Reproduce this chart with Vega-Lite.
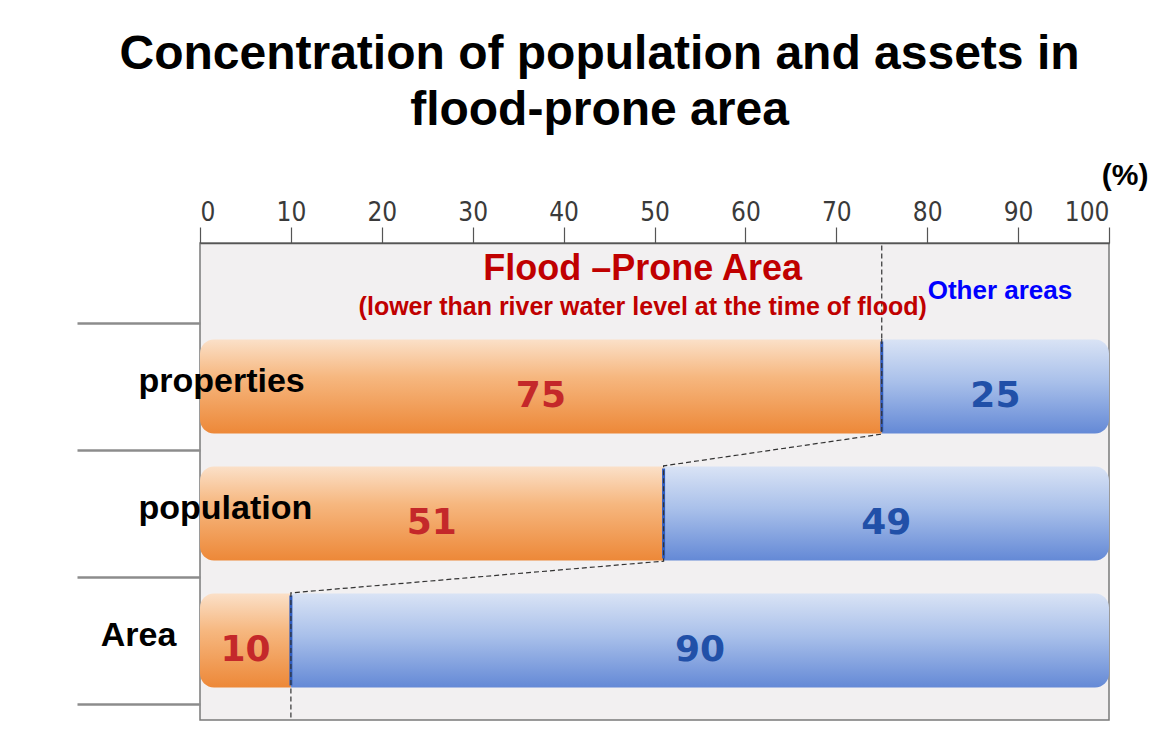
{
  "$schema": "https://vega.github.io/schema/vega-lite/v6.json",
  "autosize": {"type": "none"},
  "width": 909,
  "height": 477,
  "padding": {"left": 200, "top": 243, "right": 44, "bottom": 16},
  "background": "#ffffff",
  "title": {
    "text": ["Concentration of population and assets  in", "flood-prone area"],
    "font": "Liberation Sans",
    "fontSize": 48,
    "fontWeight": "bold",
    "color": "#000000",
    "lineHeight": 56,
    "anchor": "middle",
    "frame": "group",
    "dx": -55,
    "offset": 25
  },
  "config": {
    "view": {"fill": "#f2f0f1", "stroke": "#7a7a7a", "strokeWidth": 1.5}
  },
  "data": {
    "values": [
      {"cat": "properties", "part": "flood", "pct": 75},
      {"cat": "properties", "part": "other", "pct": 25},
      {"cat": "population", "part": "flood", "pct": 51},
      {"cat": "population", "part": "other", "pct": 49},
      {"cat": "Area", "part": "flood", "pct": 10},
      {"cat": "Area", "part": "other", "pct": 90}
    ]
  },
  "transform": [
    {"stack": "pct", "groupby": ["cat"], "sort": [{"field": "part", "order": "ascending"}], "as": ["x0", "x1"]}
  ],
  "encoding": {
    "y": {
      "field": "cat",
      "type": "nominal",
      "scale": {"domain": ["properties", "population", "Area"], "range": [80, 461], "paddingInner": 0, "paddingOuter": 0},
      "axis": {
        "orient": "left",
        "title": null,
        "domain": false,
        "tickBand": "extent",
        "tickSize": 123,
        "tickColor": "#8c8c8c",
        "tickWidth": 2.5,
        "labelFont": "Liberation Sans",
        "labelFontSize": 34,
        "labelFontWeight": "bold",
        "labelColor": "#000000",
        "labelAlign": {"condition": {"test": "datum.value === 'Area'", "value": "center"}, "value": "left"},
        "labelPadding": -61,
        "labelOffset": -5,
        "zindex": 1
      }
    }
  },
  "layer": [
    {
      "data": {"values": [{"cat": "properties", "pct": 75}]},
      "mark": {"type": "rule", "stroke": "#333333", "strokeWidth": 1.2, "strokeDash": [5, 3]},
      "encoding": {
        "x": {"field": "pct", "type": "quantitative"},
        "y2": {"value": 0}
      }
    },
    {
      "data": {"values": [{"cat": "Area", "pct": 10}]},
      "mark": {"type": "rule", "stroke": "#333333", "strokeWidth": 1.2, "strokeDash": [5, 3]},
      "encoding": {
        "x": {"field": "pct", "type": "quantitative"},
        "y2": {"value": "height"}
      }
    },
    {
      "transform": [{"filter": "datum.part === 'flood'"}],
      "mark": {
        "type": "bar",
        "height": 94,
        "cornerRadiusTopLeft": 14,
        "cornerRadiusBottomLeft": 14,
        "fill": {
          "gradient": "linear", "x1": 0, "y1": 0, "x2": 0, "y2": 1,
          "stops": [
            {"offset": 0, "color": "#fbe0c8"},
            {"offset": 0.4, "color": "#f6b77f"},
            {"offset": 1, "color": "#ed8838"}
          ]
        }
      },
      "encoding": {
        "x": {
          "field": "x0",
          "type": "quantitative",
          "scale": {"domain": [0, 100], "nice": false},
          "axis": {
            "orient": "top",
            "values": [0, 10, 20, 30, 40, 50, 60, 70, 80, 90, 100],
            "grid": false,
            "tickSize": 16,
            "tickColor": "#555555",
            "tickWidth": 1.2,
            "domainColor": "#555555",
            "domainWidth": 1.5,
            "labelFont": "Liberation Sans Narrow, DejaVu Sans Condensed, sans-serif",
            "labelFontSize": 26,
            "labelColor": "#3a3a3a",
            "labelPadding": 2,
            "title": "(%)",
            "titleFont": "Liberation Sans",
            "titleFontSize": 30,
            "titleFontWeight": "bold",
            "titleColor": "#000000",
            "titleX": 948,
            "titleY": -68,
            "titleAlign": "right",
            "titleBaseline": "middle"
          }
        },
        "x2": {"field": "x1"}
      }
    },
    {
      "transform": [{"filter": "datum.part === 'other'"}],
      "mark": {
        "type": "bar",
        "height": 94,
        "cornerRadiusTopRight": 14,
        "cornerRadiusBottomRight": 14,
        "fill": {
          "gradient": "linear", "x1": 0, "y1": 0, "x2": 0, "y2": 1,
          "stops": [
            {"offset": 0, "color": "#d9e3f5"},
            {"offset": 0.45, "color": "#a9c0ea"},
            {"offset": 1, "color": "#6489d6"}
          ]
        }
      },
      "encoding": {
        "x": {"field": "x0", "type": "quantitative"},
        "x2": {"field": "x1"}
      }
    },
    {
      "transform": [{"filter": "datum.part === 'other'"}],
      "mark": {"type": "bar", "height": 90, "fill": null, "stroke": "#2f5cbf", "strokeWidth": 3},
      "encoding": {
        "x": {"field": "x0", "type": "quantitative"},
        "x2": {"field": "x0"}
      }
    },
    {
      "data": {
        "values": [
          {"cat": "properties", "pct": 75, "edge": "top", "step": 1},
          {"cat": "properties", "pct": 75, "edge": "bottom", "step": 2},
          {"cat": "population", "pct": 51, "edge": "top", "step": 3},
          {"cat": "population", "pct": 51, "edge": "bottom", "step": 4},
          {"cat": "Area", "pct": 10, "edge": "top", "step": 5},
          {"cat": "Area", "pct": 10, "edge": "bottom", "step": 6}
        ]
      },
      "mark": {"type": "line", "stroke": "#333333", "strokeWidth": 1.2, "strokeDash": [5, 3]},
      "encoding": {
        "x": {"field": "pct", "type": "quantitative"},
        "yOffset": {"field": "edge", "type": "nominal", "scale": {"type": "point", "domain": ["top", "bottom"], "padding": 0.1667}},
        "order": {"field": "step", "type": "quantitative"}
      }
    },
    {
      "mark": {"type": "text", "font": "DejaVu Sans", "fontSize": 36, "fontWeight": "bold", "dy": 9},
      "encoding": {
        "x": {"field": "pct", "type": "quantitative", "stack": "zero", "bandPosition": 0.5},
        "order": {"field": "part", "type": "nominal", "sort": "ascending"},
        "detail": {"field": "part"},
        "text": {"field": "pct", "type": "quantitative"},
        "color": {"condition": {"test": "datum.part === 'flood'", "value": "#c4282a"}, "value": "#2150a8"}
      }
    },
    {
      "data": {"values": [{"label": "Flood \u2013Prone Area", "pos": 48.7}]},
      "mark": {"type": "text", "font": "Liberation Sans", "fontSize": 36, "fontWeight": "bold", "color": "#c00000", "dy": -118},
      "encoding": {
        "x": {"field": "pos", "type": "quantitative"},
        "y": {"datum": "properties"},
        "text": {"field": "label"}
      }
    },
    {
      "data": {"values": [{"label": "(lower than river water level at the time of flood)", "pos": 48.7}]},
      "mark": {"type": "text", "font": "Liberation Sans", "fontSize": 25, "fontWeight": "bold", "color": "#c00000", "dy": -80},
      "encoding": {
        "x": {"field": "pos", "type": "quantitative"},
        "y": {"datum": "properties"},
        "text": {"field": "label"}
      }
    },
    {
      "data": {"values": [{"label": "Other areas", "pos": 88}]},
      "mark": {"type": "text", "font": "Liberation Sans", "fontSize": 26, "fontWeight": "bold", "color": "#0000ff", "dy": -96},
      "encoding": {
        "x": {"field": "pos", "type": "quantitative"},
        "y": {"datum": "properties"},
        "text": {"field": "label"}
      }
    }
  ]
}
